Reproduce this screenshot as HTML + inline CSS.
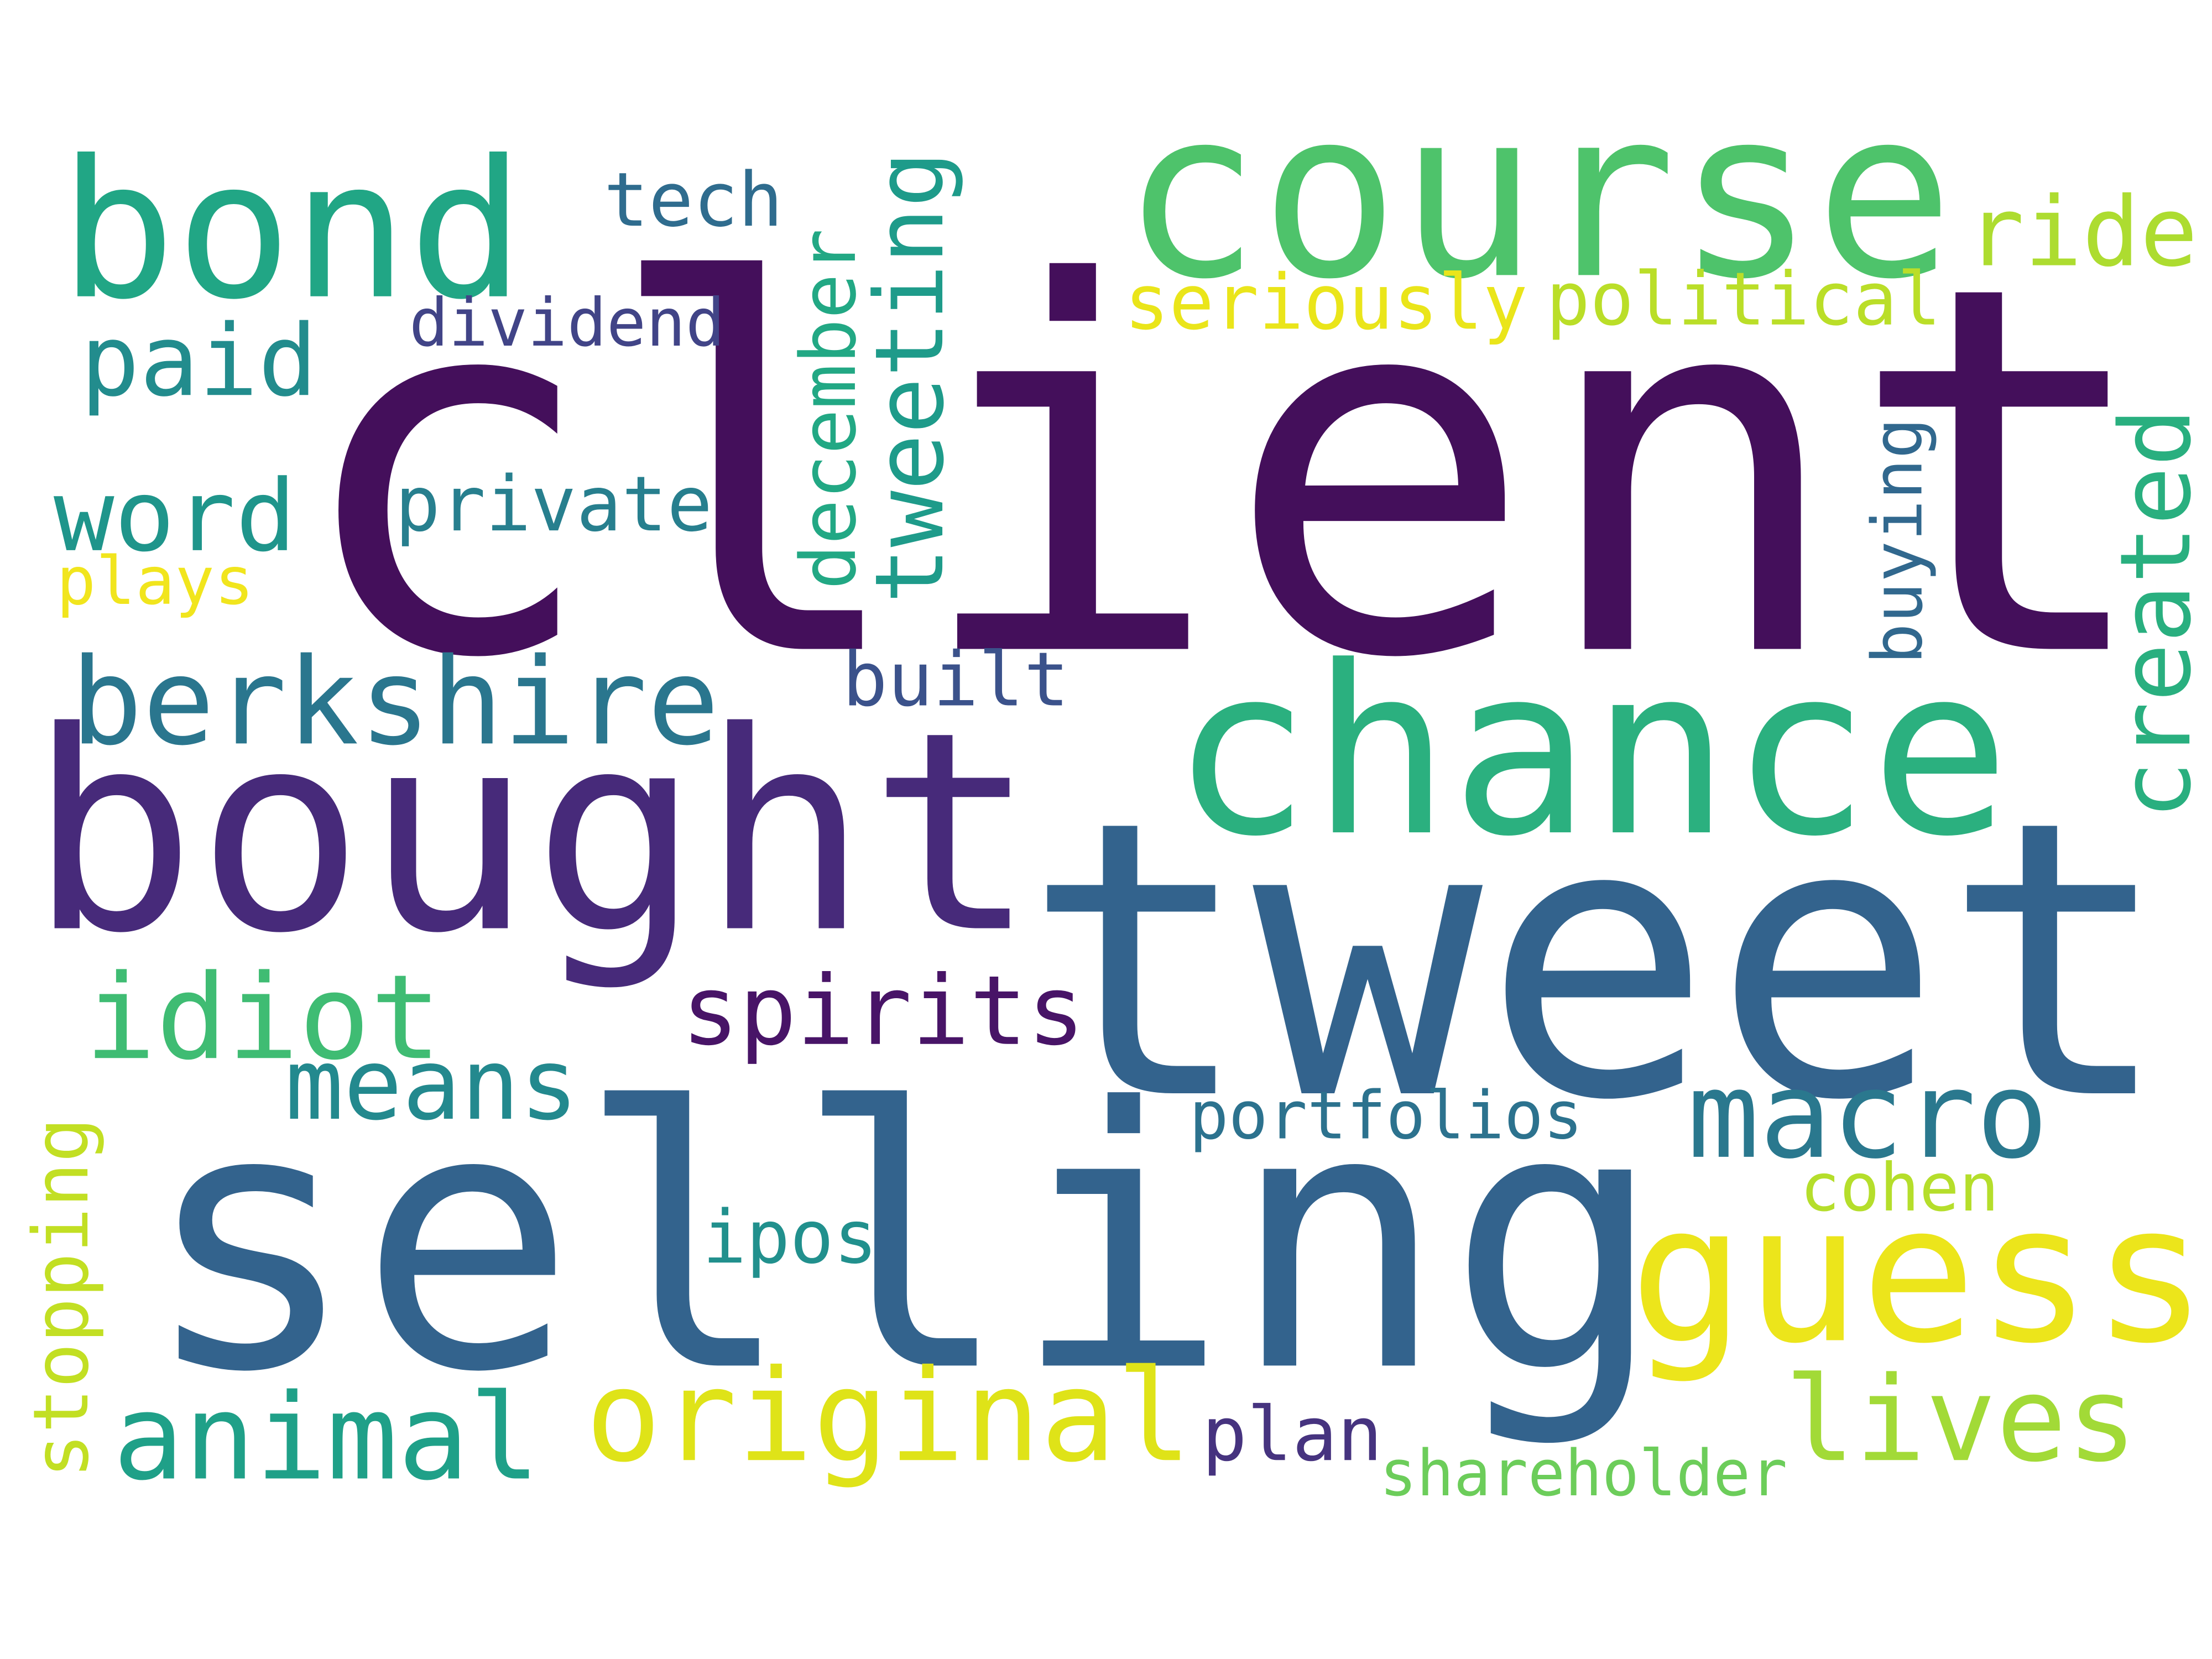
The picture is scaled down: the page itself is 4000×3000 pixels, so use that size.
<!DOCTYPE html>
<html><head><meta charset="utf-8"><style>
html,body{margin:0;padding:0;background:#fff;}
svg{display:block;}
text{font-family:"DejaVu Sans Mono","Liberation Mono",monospace;}
</style></head>
<body>
<svg id="cloud" width="4000" height="3000" viewBox="0 0 1568 1176" xmlns="http://www.w3.org/2000/svg">
<rect width="1568" height="1176" fill="#ffffff"/>
</svg>
<script>
const words = ["client","tweet","selling","bought","course","chance","bond","guess","original","lives","animal","idiot","means","macro","berkshire","paid","word","plays","private","dividend","tech","seriously","political","ride","built","spirits","portfolios","cohen","ipos","plan","shareholder","tweeting","december","created","buying","stopping"];
const sizes = [360,270,255,195,165,165,135,135,90,83,84,83,70,85,85,70,70,47,54,47,53,54,52,68,53,68,47,47,52,53,45,67,54,69,49,54];
const colors = ["#440f5b","#33638d","#33638d","#472a7a","#4ec36b","#2bb07f","#21a685","#ece51b","#dfe318","#a2da37","#1fa088","#3fbc73","#23898e","#2a788e","#2a768e","#228c8d","#1f958b","#f1e51d","#277f8e","#414487","#2f6c8e","#eae51a","#bade28","#addc30","#3b528b","#481467","#2c728e","#b5de2b","#21908d","#46337f","#6ccd5a","#1e9b8a","#22a884","#29af7f","#31688e","#c2df23"];
// layout: x, baseline y, advance width, rotated (1 = vertical, reading upward)
const layout = [
[205,460,1325,0],[725,775,815,0],[100,968,1080,0],[20,658,715,0],[795,195,590,0],[830,590,595,0],[42,210,330,0],[1155,950,410,0],[415,1035,430,0],[1265,1035,250,0],[80,1048,303,0],[60,750,253,0],[202,793,208,0],[1196,820,256,0],[50,527,460,0],[57,280,168,0],[38,390,172,0],[40,428,140,0],[280,376,225,0],[290,245,224,0],[428,160,127,0],[797,233,286,0],[1096,230,280,0],[1394,188,164,0],[597,500,161,0],[483,740,286,0],[843,807,279,0],[1276,858,141,0],[498,895,124,0],[852,1035,128,0],[978,1060,289,0],
[668,428,321,1],[606,418,256,1],[1552,581,292,1],[1362,471,175,1],[62,1048,256,1]
];
const svg = document.getElementById('cloud');
const NS = 'http://www.w3.org/2000/svg';
words.forEach((w,i)=>{
  const [x,y,wd,rot] = layout[i];
  const t = document.createElementNS(NS,'text');
  
  
  t.setAttribute('font-size', sizes[i]);
  t.setAttribute('fill', colors[i]);
  t.setAttribute('textLength', wd);
  t.setAttribute('lengthAdjust', 'spacingAndGlyphs');
  if (rot) {
    t.setAttribute('x', 0);
    t.setAttribute('y', 0);
    t.setAttribute('transform', 'translate(' + x + ',' + y + ') rotate(-90)');
  } else {
    t.setAttribute('x', x);
    t.setAttribute('y', y);
  }
  t.textContent = w;
  svg.appendChild(t);
});
</script>
</body></html>
